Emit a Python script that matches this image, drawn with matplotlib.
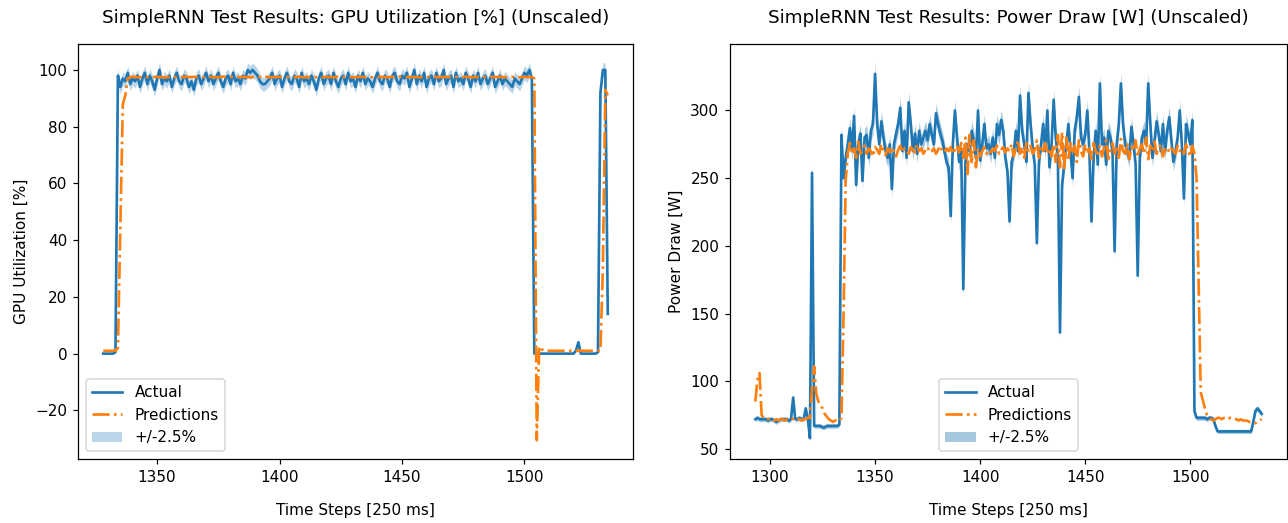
import matplotlib
matplotlib.use('Agg')
import matplotlib.pyplot as plt
import numpy as np

# GPU utilization test window
gpu_start = 1328
gpu_actual = [0, 0, 0, 0, 0, 0.5,
              98, 94, 97, 96, 99, 95, 97, 96, 98, 94,
              97, 99, 95, 98, 96, 93, 97, 100, 95, 97,
              96, 98, 94, 97, 99, 96, 95, 98, 97, 94,
              96, 93, 97, 98, 95, 97, 99, 96, 98, 95,
              97, 99, 96, 94, 97, 98, 95, 99, 96, 97,
              95, 98, 97, 100, 99, 100, 99, 98, 96, 95,
              95, 96, 97, 99, 95, 97, 98, 94, 97, 99,
              96, 95, 98, 97, 94, 99, 96, 97, 95, 98,
              96, 93, 97, 99, 95, 97, 98, 95, 99, 96,
              94, 97, 98, 95, 99, 96, 97, 94, 98, 96,
              99, 95, 97, 96, 94, 97, 99, 96, 95, 98,
              97, 94, 98, 99, 96, 95, 98, 97, 99, 94,
              97, 100, 95, 98, 96, 99, 94, 97, 98, 95,
              99, 96, 97, 100, 95, 97, 98, 94, 99, 96,
              97, 95, 99, 97, 94, 98, 96, 99, 95, 97,
              98, 95, 97, 99, 94, 96, 98, 95, 97, 96,
              95, 94, 97, 96, 95, 97, 99, 98, 100, 97,
              0, 0, 0, 0, 0, 0, 0, 0, 0, 0,
              0, 0, 0, 0, 0, 0, 0, 1, 4, 0,
              0, 0, 0, 0, 0, 0,
              0.5, 92, 100, 100, 14]
gpu_pred = [1, 1, 1, 1, 1, 1,
            2, 45, 88, 91, 97,
            97.5, 97.6, 97.5, 97.4, 97.5, 97.5, 97.7, 97.5, 97.4, 97.5,
            97.5, 97.6, 97.5, 97.5, 97.3, 97.5, 97.5, 97.6, 97.5, 97.5,
            97.4, 97.5, 97.5, 97.7, 97.5, 97.5, 97.6, 97.5, 97.4, 97.5,
            97.5, 97.5, 97.6, 97.5, 97.5, 97.4, 97.5, 97.5, 97.7, 97.5,
            97.5, 97.6, 97.5, 97.3, 97.5, 97.5, 97.6, 97.5, 97.5, 97.4,
            97.5, 97.5, 97.6, 97.5, 97.5, 97.7, 97.5, 97.4, 97.5, 97.5,
            97.6, 97.5, 97.5, 97.4, 97.5, 97.5, 97.6, 97.5, 97.5, 97.7,
            97.5, 97.4, 97.5, 97.5, 97.6, 97.5, 97.5, 97.3, 97.5, 97.5,
            97.6, 97.5, 97.5, 97.4, 97.5, 97.7, 97.5, 97.5, 97.6, 97.5,
            97.5, 97.4, 97.5, 97.5, 97.6, 97.5, 97.5, 97.7, 97.5, 97.4,
            97.5, 97.5, 97.6, 97.5, 97.5, 97.4, 97.5, 97.6, 97.5, 97.5,
            97.7, 97.5, 97.4, 97.5, 97.5, 97.6, 97.5, 97.5, 97.4, 97.5,
            97.5, 97.6, 97.5, 97.5, 97.7, 97.5, 97.4, 97.5, 97.5, 97.6,
            97.5, 97.5, 97.4, 97.5, 97.6, 97.5, 97.5, 97.7, 97.5, 97.5,
            97.4, 97.5, 97.6, 97.5, 97.5, 97.5, 97.4, 97.6, 97.5, 97.5,
            97.5, 97.6, 97.5, 97.4, 97.5, 97.5, 97.6, 97.5, 97.5, 97.4,
            97.5, 97.6, 97.5, 97.5, 97.5,
            97, -30.5, 2.5, 1.5,
            1, 1, 1, 1, 1, 1, 1, 1, 1, 1,
            1, 1, 1, 1, 1, 1, 1, 1, 1, 1,
            1, 1, 1,
            1, 30, 93, 91]

# power draw test window
power_start = 1293
power_actual = [72, 73, 72, 72, 72, 72, 71, 72, 72, 71,
                70, 71, 72, 72, 72, 72, 71, 72,
                88,
                72, 72, 73, 72, 72,
                80, 72, 58, 254, 67,
                67, 67, 67, 66, 66, 67, 67, 67, 67, 67, 67,
                68,
                282, 250, 265, 275, 287, 270, 296, 245, 275, 283,
                248, 280, 282, 265, 285, 290, 327, 290, 275, 292,
                280, 270, 265, 275, 242, 275, 283, 290, 302, 270,
                285, 265, 306, 290, 270, 283, 268, 285, 275, 280,
                285, 278, 290, 282, 275, 298, 290, 283, 278, 270,
                262, 258, 222, 275, 300, 280, 262, 270, 168, 262,
                275, 270, 285, 278, 265, 300, 263, 275, 290, 272,
                275, 268, 280, 265, 290, 282, 293, 285, 265, 255,
                218, 262, 268, 285, 270, 311, 285, 275, 262, 313,
                290, 272, 260, 202, 262, 275, 290, 270, 300, 258,
                275, 308, 280, 265, 136, 245, 260, 275, 290, 270,
                250, 285, 295, 310, 280, 275, 282, 300, 270, 218,
                265, 285, 260, 320, 275, 280, 260, 285, 280, 270,
                196, 275, 290, 320, 290, 275, 270, 265, 288, 275,
                260, 178, 265, 280, 285, 275, 320, 290, 265, 278,
                292, 282, 270, 290, 270, 285, 295, 278, 262, 270,
                280, 300, 275, 235, 290, 283, 275, 293, 78, 73,
                73, 73, 73, 73, 72, 73, 73, 72,
                67, 63,
                63, 63, 63, 63, 63, 63, 63, 63, 63, 63, 63, 63, 63, 63, 63, 63,
                70, 78, 80, 78, 76]
power_pred = [85, 101, 106, 75, 73, 72, 72, 73, 72, 71,
              72, 71, 72, 72, 71, 72, 72, 73,
              72, 73, 72, 72, 71, 72, 72, 73, 73,
              94, 111, 91, 85, 82, 80, 76, 74, 72, 71, 70, 71, 72, 71,
              73, 150, 248, 268, 276, 268, 272, 265, 277, 268,
              270, 274, 268, 272, 270, 266, 273, 271, 268, 275,
              270, 267, 272, 269, 273, 270, 266, 271, 274, 269,
              272, 270, 268, 273, 271, 269, 275, 270, 272, 268,
              271, 273, 269, 270, 272, 268, 271, 274, 270, 269,
              272, 270, 273, 268, 271, 274, 269, 276, 265, 280,
              253, 282, 262, 278, 258, 272, 266, 270, 273, 268,
              271, 269, 272, 270, 274, 268, 271, 273, 269, 272,
              270, 275, 266, 272, 278, 268, 273, 265, 276, 270,
              274, 268, 271, 278, 265, 273, 270, 276, 268, 272,
              266, 275, 262, 282, 258, 284, 256, 280, 263, 276,
              268, 274, 262, 278, 270, 266, 275, 268, 272, 264,
              276, 270, 268, 274, 266, 272, 278, 264, 271, 276,
              268, 273, 265, 279, 270, 268, 276, 264, 273, 270,
              278, 266, 272, 275, 268, 280, 264, 274, 270, 277,
              268, 272, 275, 266, 271, 273, 269, 272, 270, 268,
              274, 270, 272, 268, 275, 270, 266, 274, 268, 250,
              170, 92, 86, 80, 75, 73, 72, 71, 72, 73,
              73, 72, 73, 73, 72, 73, 72, 72, 72, 71,
              72, 71, 71, 71, 70, 70, 70, 69, 70, 71, 72]


def plot_results(ax, start, actual, pred, title, ylabel, band_alpha, legend_loc):
    actual = np.array(actual, dtype=float)
    pred = np.array(pred, dtype=float)
    steps = np.arange(start, start + len(actual))
    ax.plot(steps, actual, color='tab:blue', lw=1.75, label='Actual')
    ax.plot(steps, pred, color='tab:orange', lw=1.75, ls='-.', label='Predictions')
    ax.fill_between(steps, actual * 0.975, actual * 1.025, color='tab:blue',
                    alpha=band_alpha, lw=0, label='+/-2.5%')
    ax.set_title(title, pad=14)
    ax.set_xlabel('Time Steps [250 ms]', labelpad=12)
    ax.set_ylabel(ylabel)
    ax.legend(loc=legend_loc)


if __name__ == "__main__":
    W, H = 1288, 523
    fig = plt.figure(figsize=(W / 110, H / 110), dpi=110)
    ax1 = fig.add_axes([78 / W, (H - 459) / H, 555 / W, 415 / H])
    ax2 = fig.add_axes([730 / W, (H - 459) / H, 557 / W, 415 / H])

    plot_results(ax1, gpu_start, gpu_actual, gpu_pred,
                 'SimpleRNN Test Results: GPU Utilization [%] (Unscaled)',
                 'GPU Utilization [%]', 0.3, 'lower left')
    plot_results(ax2, power_start, power_actual, power_pred,
                 'SimpleRNN Test Results: Power Draw [W] (Unscaled)',
                 'Power Draw [W]', 0.4, 'lower center')

    fig.savefig('out.png', dpi=110)
    plt.close()
